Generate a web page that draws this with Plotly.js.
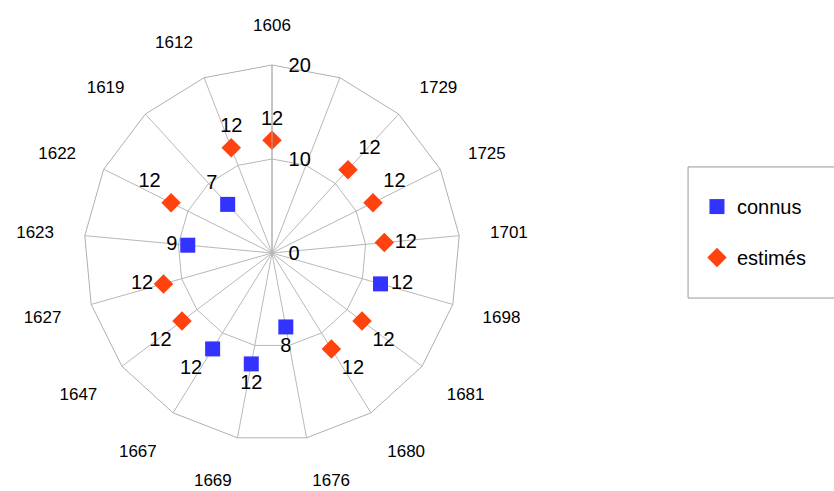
<!DOCTYPE html>
<html>
<head>
<meta charset="utf-8">
<script src="https://cdn.plot.ly/plotly-3.0.1.min.js"></script>
<style>html,body{margin:0;padding:0;background:#fff;}#chart{width:834px;height:491px;}</style>
</head>
<body>
<div id="chart"></div>
<script>
// Categories (clockwise from top); the second spoke has no label and no value
const categories = ["1606", "\u00a0", "1729", "1725", "1701", "1698", "1681", "1680", "1676", "1669", "1667", "1647", "1627", "1623", "1622", "1619", "1612"];
// Series values aligned with categories (null = no point)
const connus  = [null, null, null, null, null, 12, null, null, 8, 12, 12, null, null, 9, null, 7, null];
const estimes = [12, null, 12, 12, 12, null, 12, 12, null, null, null, 12, 12, null, 12, null, 12];
const radialTicks = [0, 10, 20];
const seriesNames = ["connus", "estimés"];

const labelPos = ["top center", "top right", "top right", "top right", "middle right", "middle right",
  "bottom right", "bottom right", "bottom center", "bottom center", "bottom left", "bottom left",
  "middle left", "middle left", "top left", "top left", "top center"];

const txt = arr => arr.map(v => v === null ? "" : String(v));
const FONT = "Liberation Sans, Arial, sans-serif";

const traces = [
  {
    type: "scatterpolar", mode: "markers+text", name: seriesNames[0], legendgroup: "a",
    r: connus, theta: categories, text: txt(connus), textposition: labelPos,
    textfont: {family: FONT, size: 20, color: "#000"},
    marker: {symbol: "square", size: 15, color: "#3333ff"},
    cliponaxis: false
  },
  {
    type: "scatterpolar", mode: "markers+text", name: seriesNames[1], legendgroup: "b",
    r: estimes, theta: categories, text: txt(estimes), textposition: labelPos,
    textfont: {family: FONT, size: 20, color: "#000"},
    marker: {symbol: "diamond", size: 15, color: "#ff420e"},
    cliponaxis: false
  }
];

const layout = {
  width: 834, height: 491,
  margin: {l: 0, r: 0, t: 0, b: 0},
  paper_bgcolor: "#fff",
  font: {family: FONT, color: "#000"},
  showlegend: true,
  legend: {
    x: 0.8357, xanchor: "left", y: 0.619, yanchor: "top",
    borderwidth: 0, bgcolor: "rgba(0,0,0,0)",
    font: {family: FONT, size: 20, color: "#000"},
    tracegroupgap: 22, traceorder: "grouped"
  },
  shapes: [{
    type: "rect", xref: "paper", yref: "paper",
    x0: 0.825, x1: 1.01, y0: 0.393, y1: 0.66,
    line: {color: "#999", width: 1}, fillcolor: "rgba(0,0,0,0)", layer: "below"
  }],
  polar: {
    domain: {x: [0.1007, 0.5516], y: [0.1018, 0.8676]},
    bgcolor: "#fff",
    gridshape: "linear",
    angularaxis: {
      type: "category", categoryorder: "array", categoryarray: categories,
      direction: "clockwise", rotation: 90,
      showline: true, linecolor: "#b0b0b0", linewidth: 1,
      showgrid: true, gridcolor: "#b8b8b8", gridwidth: 1,
      ticks: "outside", ticklen: 27, tickcolor: "rgba(0,0,0,0)",
      tickfont: {family: FONT, size: 17, color: "#000"}
    },
    radialaxis: {
      range: [0, 20], tickmode: "array", tickvals: radialTicks, ticktext: radialTicks.map(String),
      angle: 90, side: "clockwise", tickangle: 90,
      showline: true, linecolor: "#b0b0b0", linewidth: 1,
      showgrid: true, gridcolor: "#b8b8b8", gridwidth: 1,
      ticks: "outside", ticklen: 12, tickcolor: "rgba(0,0,0,0)",
      tickfont: {family: FONT, size: 20, color: "#000"}
    }
  }
};

Plotly.newPlot("chart", traces, layout, {displayModeBar: false, staticPlot: true});
</script>
</body>
</html>
